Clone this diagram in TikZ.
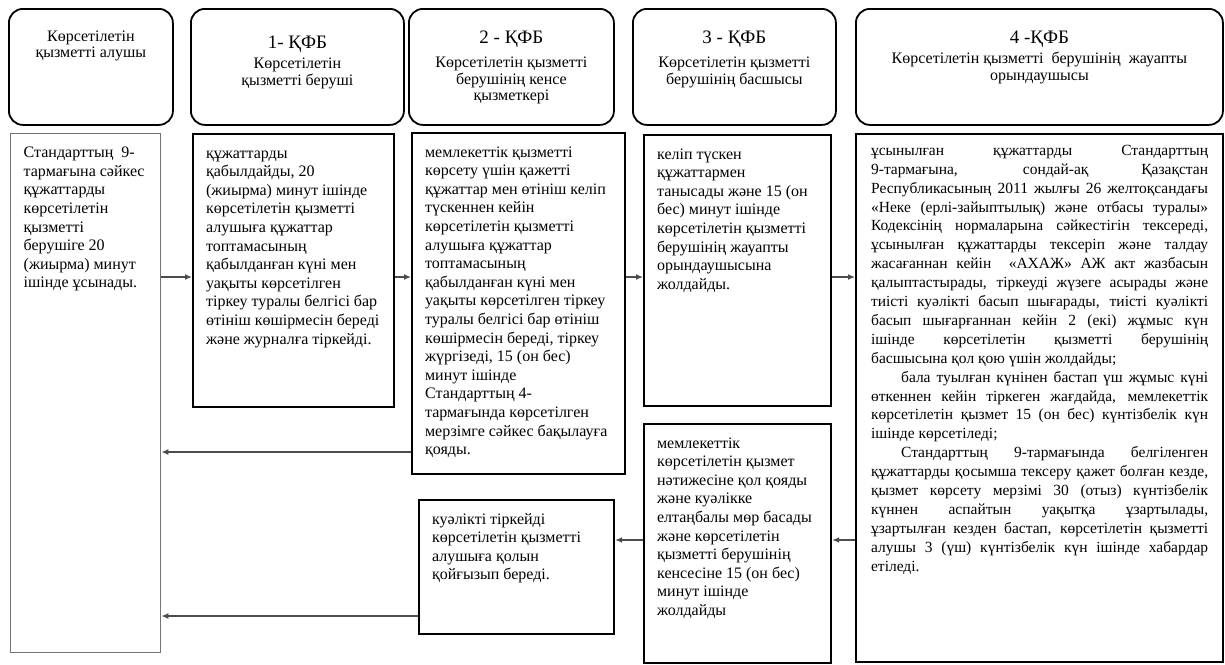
\documentclass[tikz,border=0pt]{standalone}
\usepackage{fontspec}
\setmainfont{Liberation Serif}
\usetikzlibrary{positioning, arrows.meta}
\tikzset{headbox/.style={draw=black, line width=1.8pt, rounded corners=14pt, anchor=north west, inner xsep=8pt, inner ysep=22pt},
bodybox/.style={draw=black, line width=2.2pt, anchor=north west, inner xsep=13pt, inner ysep=11pt},
recvbox/.style={draw=black!55, line width=1.4pt, anchor=north west, inner xsep=13pt, inner ysep=11pt},
arr/.style={draw=black!70, line width=1.3pt, -{Latex[length=7pt,width=6pt]}}}
\newcommand{\bodytext}{\fontsize{16}{18.6}\selectfont\hyphenpenalty=10000 \exhyphenpenalty=10000 \tolerance=10000 }
\newcommand{\headsub}{\fontsize{16}{16.5}\selectfont}
\newcommand{\headtitle}{\fontsize{19}{22}\selectfont}
\newcommand{\headcell}[3]{\parbox[c][\dimexpr#2pt-44pt][t]{\dimexpr#1pt-16pt}{\centering #3}}
\newcommand{\bodycell}[3]{\parbox[c][\dimexpr#2pt-22pt][t]{\dimexpr#1pt-26pt}{\bodytext\raggedright\strut #3}}
\begin{document}
\begin{tikzpicture}[x=1pt,y=-1pt]
\useasboundingbox (0,0) rectangle (1225,664);

% header row
\node[headbox] (halushy) at (8,8) {\headcell{164}{116}{\headsub Көрсетілетін\\ қызметті алушы}};
\node[headbox] (hkfb1) at (190,8) {\headcell{213}{116}{\vspace*{5pt}{\headtitle 1- ҚФБ\par}\vspace{4pt}{\headsub Көрсетілетін\\ қызметті беруші\par}}};
\node[headbox] (hkfb2) at (408,8) {\headcell{205}{116}{{\headtitle 2 - ҚФБ\par}\vspace{8pt}{\headsub Көрсетілетін қызметті\\ берушінің кенсе\\ қызметкері\par}}};
\node[headbox] (hkfb3) at (632,8) {\headcell{203}{116}{{\headtitle 3 - ҚФБ\par}\vspace{8pt}{\headsub Көрсетілетін қызметті\\ берушінің басшысы\par}}};
\node[headbox] (hkfb4) at (855,8) {\headcell{367}{116}{{\headtitle 4 -ҚФБ\par}\vspace{4pt}{\headsub Көрсетілетін қызметті\ \ берушінің\ \ жауапты\\ орындаушысы\par}}};

% body boxes
\node[recvbox] (alushy) at (10,133) {\bodycell{150}{519}{Стандарттың\ \ 9-\\ тармағына сәйкес\\ құжаттарды\\ көрсетілетін\\ қызметті\\ берушіге 20\\ (жиырма) минут\\ ішінде ұсынады.}};
\node[bodybox] (kfb1) at (192,133) {\bodycell{201}{273}{құжаттарды\\ қабылдайды, 20\\ (жиырма) минут ішінде\\ көрсетілетін қызметті\\ алушыға құжаттар\\ топтамасының\\ қабылданған күні мен\\ уақыты көрсетілген\\ тіркеу туралы белгісі бар\\ өтініш көшірмесін береді\\ және журналға тіркейді.}};
\node[bodybox] (kfb2) at (411,132) {\bodycell{213}{341}{мемлекеттік қызметті\\ көрсету үшін қажетті\\ құжаттар мен өтініш келіп\\ түскеннен кейін\\ көрсетілетін қызметті\\ алушыға құжаттар\\ топтамасының\\ қабылданған күні мен\\ уақыты көрсетілген тіркеу\\ туралы белгісі бар өтініш\\ көшірмесін береді, тіркеу\\ жүргізеді, 15 (он бес)\\ минут ішінде\\ Стандарттың 4-\\ тармағында көрсетілген\\ мерзімге сәйкес бақылауға\\ қояды.}};
\node[bodybox] (kfb3) at (643,134) {\bodycell{187}{271}{келіп түскен\\ құжаттармен\\ танысады және 15 (он\\ бес) минут ішінде\\ көрсетілетін қызметті\\ берушінің жауапты\\ орындаушысына\\ жолдайды.}};
\node[bodybox] (kfb3b) at (643,423) {\bodycell{187}{239}{мемлекеттік\\ көрсетілетін қызмет\\ нәтижесіне қол қояды\\ және куәлікке\\ елтаңбалы мөр басады\\ және көрсетілетін\\ қызметті берушінің\\ кенсесіне 15 (он бес)\\ минут ішінде\\ жолдайды}};
\node[bodybox] (kfb2b) at (418,499) {\bodycell{195}{134}{куәлікті тіркейді\\ көрсетілетін қызметті\\ алушыға қолын\\ қойғызып береді.}};
\node[bodybox, inner xsep=15pt, inner ysep=8pt] (kfb4) at (855,133) {\parbox[c][512pt][t]{337pt}{\fontsize{15.5}{18.9}\selectfont\hyphenpenalty=10000 \exhyphenpenalty=10000 \tolerance=10000 \setlength{\parindent}{30pt}\noindent\strut
ұсынылған құжаттарды Стандарттың\linebreak
9-тармағына, сондай-ақ Қазақстан\linebreak
Республикасының 2011 жылғы 26 желтоқсандағы\linebreak
«Неке (ерлі-зайыптылық) және отбасы туралы»\linebreak
Кодексінің нормаларына сәйкестігін тексереді,\linebreak
ұсынылған құжаттарды тексеріп және талдау\linebreak
жасағаннан кейін\ \ «АХАЖ» АЖ акт жазбасын\linebreak
қалыптастырады, тіркеуді жүзеге асырады және\linebreak
тиісті куәлікті басып шығарады, тиісті куәлікті\linebreak
басып шығарғаннан кейін 2 (екі) жұмыс күн\linebreak
ішінде көрсетілетін қызметті берушінің\linebreak
басшысына қол қою үшін жолдайды;\par
бала туылған күнінен бастап үш жұмыс күні\linebreak
өткеннен кейін тіркеген жағдайда, мемлекеттік\linebreak
көрсетілетін қызмет 15 (он бес) күнтізбелік күн\linebreak
ішінде көрсетіледі;\par
Стандарттың 9-тармағында белгіленген\linebreak
құжаттарды қосымша тексеру қажет болған кезде,\linebreak
қызмет көрсету мерзімі 30 (отыз) күнтізбелік\linebreak
күннен аспайтын уақытқа ұзартылады,\linebreak
ұзартылған кезден бастап, көрсетілетін қызметті\linebreak
алушы 3 (үш) күнтізбелік күн ішінде хабардар\linebreak
етіледі.}};

% arrows
\coordinate (rowA) at (0,277);
\coordinate (rowB) at (0,452);
\coordinate (rowC) at (0,540);
\coordinate (rowD) at (0,616);
\draw[arr] (alushy.east |- rowA) -- (kfb1.west |- rowA);
\draw[arr] (kfb1.east |- rowA) -- (kfb2.west |- rowA);
\draw[arr] (kfb2.east |- rowA) -- (kfb3.west |- rowA);
\draw[arr] (kfb3.east |- rowA) -- (kfb4.west |- rowA);
\draw[arr] (kfb2.west |- rowB) -- (alushy.east |- rowB);
\draw[arr] (kfb4.west |- rowC) -- (kfb3b.east |- rowC);
\draw[arr] (kfb3b.west |- rowC) -- (kfb2b.east |- rowC);
\draw[arr] (kfb2b.west |- rowD) -- (alushy.east |- rowD);
\end{tikzpicture}
\end{document}
